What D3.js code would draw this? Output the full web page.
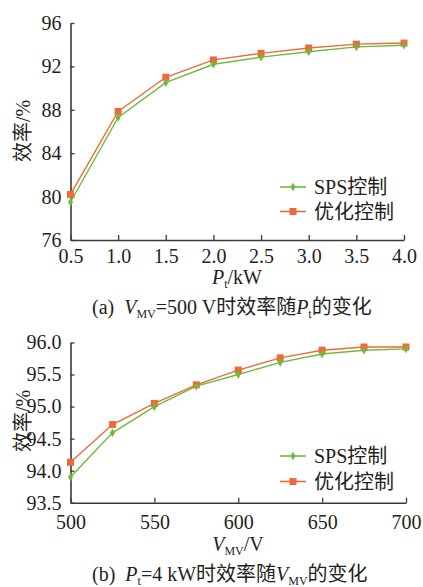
<!DOCTYPE html>
<html>
<head>
<meta charset="utf-8">
<script src="https://cdn.jsdelivr.net/npm/d3@7"></script>
<style>
  body { margin: 0; background: #fff; }
</style>
</head>
<body>
<div id="chart"></div>
<script>
// 数据 (a): 效率随 Pt 变化
const ptValues = [0.5, 1.0, 1.5, 2.0, 2.5, 3.0, 3.5, 4.0];
const spsA = [79.5, 87.3, 90.5, 92.2, 92.85, 93.35, 93.8, 93.95];
const optA = [80.2, 87.85, 91.0, 92.6, 93.2, 93.7, 94.05, 94.15];
const xTicksA = [0.5, 1.0, 1.5, 2.0, 2.5, 3.0, 3.5, 4.0];
const yTicksA = [76, 80, 84, 88, 92, 96];

// 数据 (b): 效率随 VMV 变化
const vmvValues = [500, 525, 550, 575, 600, 625, 650, 675, 700];
const spsB = [93.9, 94.59, 95.0, 95.32, 95.5, 95.69, 95.82, 95.88, 95.9];
const optB = [94.13, 94.72, 95.05, 95.34, 95.57, 95.76, 95.88, 95.93, 95.93];
const xTicksB = [500, 550, 600, 650, 700];
const yTicksB = [93.5, 94.0, 94.5, 95.0, 95.5, 96.0];

const seriesNames = ['SPS控制', '优化控制'];
const green = '#6dbb3c';
const orange = '#ef6a3a';
const axisColor = '#3a3a3a';
const fontFam = '"Liberation Serif", "Times New Roman", "Noto Sans CJK SC", serif';

const svg = d3.select('#chart').append('svg')
    .attr('width', 423)
    .attr('height', 587)
    .attr('font-family', fontFam);

function drawPanel(cfg) {
    const g = svg.append('g');
    const x = d3.scaleLinear().domain(cfg.xDomain).range([cfg.left, cfg.right]);
    const y = d3.scaleLinear().domain(cfg.yDomain).range([cfg.bottom, cfg.top]);

    // 坐标轴（刻度朝内）
    const xAxis = g.append('g')
        .attr('transform', `translate(0,${cfg.bottom})`)
        .call(d3.axisBottom(x).tickValues(cfg.xTicks).tickFormat(cfg.xFmt)
            .tickSizeInner(-5).tickSizeOuter(0).tickPadding(cfg.xPad));
    const yAxis = g.append('g')
        .attr('transform', `translate(${cfg.left},0)`)
        .call(d3.axisLeft(y).tickValues(cfg.yTicks).tickFormat(cfg.yFmt)
            .tickSizeInner(-4).tickSizeOuter(0).tickPadding(9));
    [xAxis, yAxis].forEach(a => {
        a.attr('font-family', fontFam).attr('font-size', 20);
        a.select('.domain').attr('stroke', axisColor).attr('stroke-width', 1.6);
        a.selectAll('.tick line').attr('stroke', axisColor).attr('stroke-width', 1.3);
        a.selectAll('.tick text').attr('fill', '#231f20');
    });

    // 折线
    const line = d3.line().x(d => x(d[0])).y(d => y(d[1]));
    const sps = cfg.xs.map((v, i) => [v, cfg.sps[i]]);
    const opt = cfg.xs.map((v, i) => [v, cfg.opt[i]]);

    g.append('path').datum(opt).attr('d', line)
        .attr('fill', 'none').attr('stroke', orange).attr('stroke-width', 1.4);
    g.append('path').datum(sps).attr('d', line)
        .attr('fill', 'none').attr('stroke', green).attr('stroke-width', 1.4);

    g.selectAll('.opt-pt').data(opt).enter().append('rect')
        .attr('x', d => x(d[0]) - 3.5).attr('y', d => y(d[1]) - 3.5)
        .attr('width', 7).attr('height', 7).attr('fill', orange);
    g.selectAll('.sps-pt').data(sps).enter().append('path')
        .attr('transform', d => `translate(${x(d[0])},${y(d[1])})`)
        .attr('d', d3.symbol(d3.symbolDiamond, 22)).attr('fill', green);

    // 图例
    const legend = [[seriesNames[0], green, 'diamond', cfg.legY[0]], [seriesNames[1], orange, 'square', cfg.legY[1]]];
    legend.forEach(l => {
        g.append('line').attr('x1', 280).attr('x2', 306).attr('y1', l[3]).attr('y2', l[3])
            .attr('stroke', l[1]).attr('stroke-width', 1.6);
        if (l[2] === 'square') {
            g.append('rect').attr('x', 289.5).attr('y', l[3] - 3.5).attr('width', 7).attr('height', 7).attr('fill', l[1]);
        } else {
            g.append('path').attr('transform', `translate(293,${l[3]})`)
                .attr('d', d3.symbol(d3.symbolDiamond, 22)).attr('fill', l[1]);
        }
        g.append('text').attr('x', 314).attr('y', l[3] + 7)
            .attr('font-size', 20).attr('fill', '#231f20').text(l[0]);
    });

    // y 轴标题
    g.append('text')
        .attr('transform', `translate(${cfg.yLabelX},${cfg.yLabelY}) rotate(-90)`)
        .attr('text-anchor', 'middle')
        .attr('font-size', 20).attr('fill', '#231f20')
        .text('效率/%');

    return g;
}

// 带下标的文字
function richText(g, x, y, anchor, parts) {
    const t = g.append('text').attr('x', x).attr('y', y).attr('text-anchor', anchor)
        .attr('font-size', 20).attr('fill', '#231f20');
    parts.forEach(p => {
        const s = t.append('tspan').text(p.t);
        if (p.i) s.style('font-style', 'italic');
        if (p.sub) s.attr('dy', 4).attr('font-size', 12);
        if (p.up) s.attr('dy', -4);
        if (p.dx) s.attr('dx', p.dx);
    });
    return t;
}

// (a)
const gA = drawPanel({
    xDomain: [0.5, 4.0], yDomain: [76, 96],
    left: 70.5, right: 404, top: 23, bottom: 240,
    xTicks: xTicksA, yTicks: yTicksA,
    xFmt: d3.format('.1f'), yFmt: d3.format('d'),
    xPad: 9,
    xs: ptValues, sps: spsA, opt: optA,
    legY: [187, 211.5],
    yLabelX: 30, yLabelY: 131
});
richText(gA, 237, 284, 'middle', [
    { t: 'P', i: true }, { t: 't', sub: true }, { t: '/kW', up: true }
]);
richText(gA, 92, 314, 'start', [
    { t: '(a)' }, { t: 'V', i: true, dx: 10 }, { t: 'MV', sub: true },
    { t: '=500 V时效率随', up: true }, { t: 'P', i: true }, { t: 't', sub: true }, { t: '的变化', up: true }
]);

// (b)
const gB = drawPanel({
    xDomain: [500, 700], yDomain: [93.5, 96.0],
    left: 70.5, right: 406, top: 342.5, bottom: 502.7,
    xTicks: xTicksB, yTicks: yTicksB,
    xFmt: d3.format('d'), yFmt: d3.format('.1f'),
    xPad: 12,
    xs: vmvValues, sps: spsB, opt: optB,
    legY: [456, 481.5],
    yLabelX: 30, yLabelY: 421
});
richText(gB, 238, 551, 'middle', [
    { t: 'V', i: true }, { t: 'MV', sub: true }, { t: '/V', up: true }
]);
richText(gB, 92, 581, 'start', [
    { t: '(b)' }, { t: 'P', i: true, dx: 10 }, { t: 't', sub: true },
    { t: '=4 kW时效率随', up: true }, { t: 'V', i: true }, { t: 'MV', sub: true }, { t: '的变化', up: true }
]);
</script>
</body>
</html>
